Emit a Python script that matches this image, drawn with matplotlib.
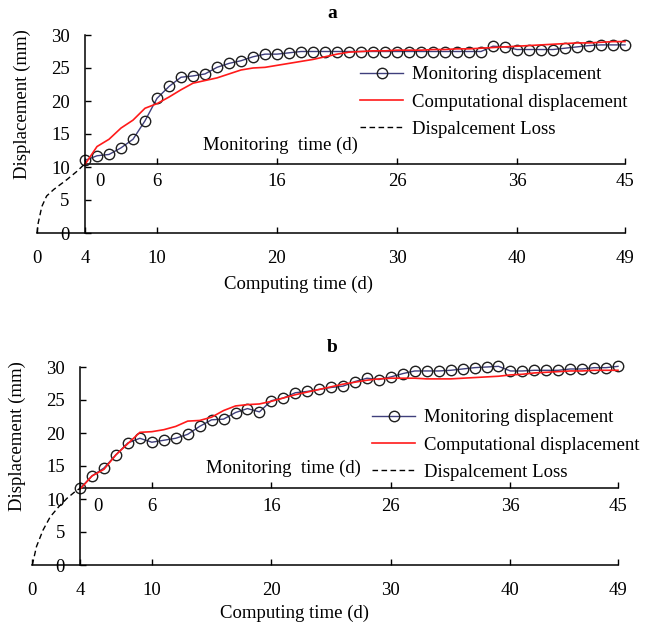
import numpy as np
import matplotlib
matplotlib.use('Agg')
from matplotlib import pyplot as plt

plt.rcParams['font.family'] = ['Liberation Serif', 'DejaVu Serif']
plt.rcParams['font.size'] = 13.5

W, H = 653, 629

# computing days with monitoring data
days = np.arange(4, 50)

mon_a = [11.0, 11.7, 11.9, 12.9, 14.2, 17.0, 20.4, 22.2, 23.6, 23.8,
         24.1, 25.1, 25.7, 26.1, 26.7, 27.1, 27.1, 27.3, 27.5, 27.5,
         27.5, 27.5, 27.5, 27.5, 27.5, 27.5, 27.5, 27.5, 27.5, 27.5,
         27.5, 27.5, 27.5, 27.5, 28.3, 28.2, 27.8, 27.8, 27.8, 27.8,
         28.0, 28.2, 28.4, 28.5, 28.5, 28.5]
comp_a = [10.4, 13.1, 14.2, 15.9, 17.1, 18.9, 19.6, 20.6, 21.7, 22.7,
          23.1, 23.5, 24.1, 24.7, 25.0, 25.1, 25.4, 25.7, 26.0, 26.3,
          26.7, 27.1, 27.4, 27.5, 27.6, 27.6, 27.7, 27.7, 27.7, 27.8,
          27.8, 27.9, 27.9, 28.0, 28.1, 28.2, 28.3, 28.4, 28.5, 28.6,
          28.7, 28.8, 28.8, 28.9, 29.0, 29.0]
loss_t_a = [0, 0.1, 0.4, 0.8, 1.4, 2.5, 3.3, 4.0]
loss_a = [0, 1.5, 4.0, 5.6, 6.6, 8.1, 9.3, 10.5]

mon_b = [11.6, 13.5, 14.7, 16.7, 18.5, 19.2, 18.6, 18.9, 19.2, 19.8,
         21.0, 22.0, 22.1, 23.1, 23.7, 23.2, 24.9, 25.3, 26.1, 26.3,
         26.6, 26.9, 27.1, 27.8, 28.3, 28.1, 28.5, 29.0, 29.4, 29.4,
         29.4, 29.5, 29.7, 29.9, 30.0, 30.1, 29.4, 29.4, 29.5, 29.5,
         29.5, 29.7, 29.7, 29.9, 29.9, 30.1]
comp_b = [11.5, 13.5, 14.5, 16.7, 18.4, 20.1, 20.2, 20.5, 21.0, 21.8,
          21.9, 22.4, 23.4, 24.1, 24.3, 24.4, 24.8, 25.3, 25.8, 26.2,
          26.6, 27.0, 27.4, 27.7, 28.0, 28.2, 28.3, 28.3, 28.3, 28.2,
          28.2, 28.2, 28.3, 28.4, 28.5, 28.6, 28.8, 28.9, 29.1, 29.2,
          29.3, 29.4, 29.4, 29.5, 29.5, 29.5]
loss_t_b = [0, 0.35, 0.9, 1.5, 2.2, 2.9, 3.7, 4.0]
loss_b = [0, 2.8, 5.3, 7.3, 8.8, 10.1, 11.3, 11.6]

comp_ticks = [0, 4, 10, 20, 30, 40, 49]
mon_ticks = [0, 6, 16, 26, 36, 45]
start_day = 4


def fx(x):
    return x / W


def fy(y):
    return 1 - y / H


def panel(ax, mon, comp, lt, lv, title, tpos, legpos, xlab, mlab, zero_dx):
    ax.plot(days, mon, color='#3f3f7c', lw=1.0, marker='o', ms=7.5,
            mfc='none', mec='#1e1e1e', mew=1.0, clip_on=False,
            label='Monitoring displacement')
    ax.plot(days, comp, color='#ff1a1a', lw=1.2, clip_on=False,
            label='Computational displacement')
    ax.plot(lt, lv, color='black', lw=1.0, ls=(0, (4, 2.5)), clip_on=False,
            label='Dispalcement Loss')

    ax.set_xlim(0, 49)
    ax.set_ylim(0, 30)
    for s in ['top', 'right']:
        ax.spines[s].set_visible(False)
    ax.spines['left'].set_position(('data', start_day))
    for s in ['left', 'bottom']:
        ax.spines[s].set_linewidth(1.1)
    ax.set_xticks(comp_ticks)
    ax.set_yticks(range(0, 31, 5))
    ax.tick_params(axis='x', direction='in', length=4, width=1.0, pad=12)
    ax.tick_params(axis='y', direction='in', length=4, width=1.0, pad=11)
    ax.set_ylabel('Displacement (mm)')
    ax.yaxis.set_label_coords(-0.01, 0.65)

    # monitoring time axis sits where the displacement loss ends
    base = lv[-1]
    sec = ax.secondary_xaxis(base / 30, functions=(lambda x: x - start_day,
                                                   lambda m: m + start_day))
    sec.set_xticks(mon_ticks, [''] + [str(m) for m in mon_ticks[1:]])
    sec.spines['bottom'].set_bounds(0, 45)
    sec.spines['bottom'].set_linewidth(1.1)
    sec.tick_params(direction='in', length=4, width=1.0, pad=7)
    ax.annotate('0', xy=(start_day, base), xytext=(zero_dx, -7),
                textcoords='offset points', ha='center', va='top')

    ax.legend(loc='upper left', bbox_to_anchor=(fx(legpos[0]), fy(legpos[1])),
              bbox_transform=ax.figure.transFigure, frameon=False,
              borderpad=0, borderaxespad=0, handlelength=2.3,
              handletextpad=0.45, labelspacing=0.55)

    fig = ax.figure
    fig.text(fx(tpos[0]), fy(tpos[1]), title, weight='bold', size=14,
             ha='center', va='center')
    fig.text(fx(xlab[0]), fy(xlab[1]), 'Computing time (d)', ha='center', va='center')
    fig.text(fx(mlab[0]), fy(mlab[1]), 'Monitoring  time (d)', ha='center', va='center')


fig = plt.figure(figsize=(W / 100, H / 100), dpi=100)
ax_a = fig.add_axes([fx(37), fy(233), fx(588), 198 / H])
ax_b = fig.add_axes([fx(32.3), fy(565), fx(585.7), 198 / H])

panel(ax_a, mon_a, comp_a, loss_t_a, loss_a, 'a', (332, 13), (360, 66),
      (299, 284), (280, 145), 11)
panel(ax_b, mon_b, comp_b, loss_t_b, loss_b, 'b', (332, 347), (372, 409),
      (294, 613), (283, 468), 13)

fig.savefig('out.png', dpi=100)
